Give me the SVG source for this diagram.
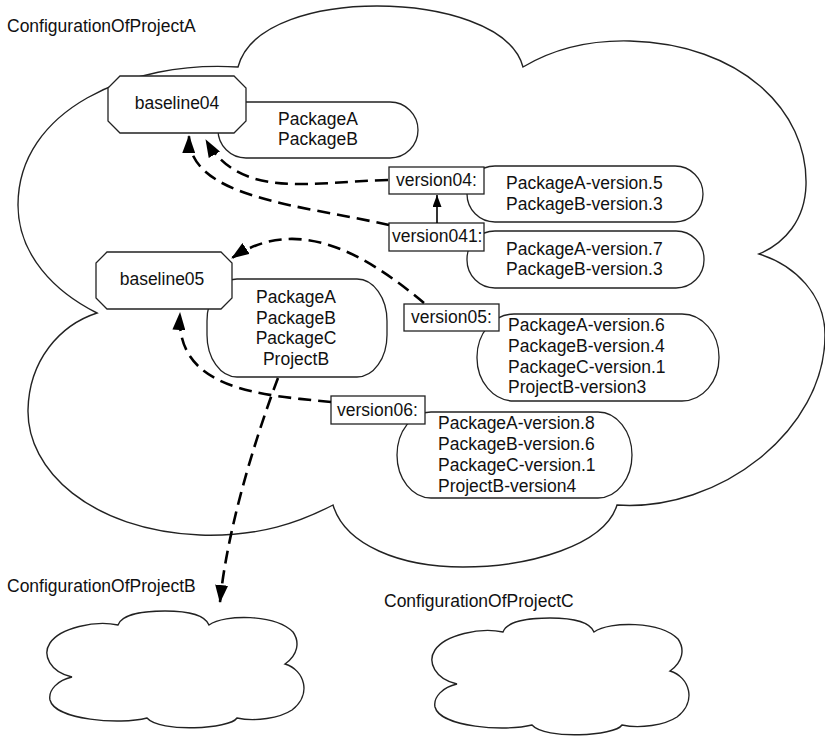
<svg xmlns="http://www.w3.org/2000/svg" width="825" height="737" viewBox="0 0 825 737">
<defs>
<style>
.t{font-family:"Liberation Sans",Arial,sans-serif;font-size:17.5px;fill:#111}
.m{text-anchor:middle}
.sh{fill:#fff;stroke:#222;stroke-width:1.3}
.cl{fill:#fff;stroke:#222;stroke-width:1.4;stroke-linejoin:miter}
.dash{fill:none;stroke:#000;stroke-width:2.6;stroke-dasharray:13 7}
.solid{fill:none;stroke:#000;stroke-width:1.6}
</style>
<marker id="ah" viewBox="0 0 18 13" refX="17" refY="6.5" markerWidth="18" markerHeight="13" markerUnits="userSpaceOnUse" orient="auto">
<path d="M0,0 L18,6.5 L0,13 z" fill="#000"/>
</marker>
<marker id="ahs" viewBox="0 0 12 9" refX="12" refY="4.5" markerWidth="12" markerHeight="9" markerUnits="userSpaceOnUse" orient="auto">
<path d="M0,0 L12,4.5 L0,9 z" fill="#000"/>
</marker>
<path id="small" d="M118,625 C122,614 145,611 165,611 C190,611 205,615 209,625 C225,614 275,614 293,632 C300,642 298,655 285,664 C305,670 312,695 292,710 C280,718 255,722 237,718 C230,729 160,733 147,718 C120,725 55,720 50,700 C48,690 58,680 72,677 C50,672 42,655 50,643 C60,628 95,620 118,625 Z"/>
</defs>

<g id="cloudA">
<path class="cl" d="M238,67 C250,22 320,6 377,6 C440,6 512,25 523,67 C555,48 590,40 630,41 C740,44 808,110 806,185 C805,220 785,243 759,254 C795,265 825,295 825,335 C825,430 720,512 617,505 C605,545 530,567 463,567 C400,567 345,545 333,505 C300,522 260,537 200,535 C90,530 27,470 28,410 C29,360 60,325 97,313 C55,292 18,255 18,205 C18,110 130,60 238,67 Z"/>
<text class="t" x="7" y="32">ConfigurationOfProjectA</text>
</g>

<g id="cloudB">
<use href="#small" class="cl"/>
<text class="t" x="7" y="592">ConfigurationOfProjectB</text>
</g>

<g id="cloudC">
<use href="#small" class="cl" transform="translate(385,7)"/>
<text class="t" x="384" y="607">ConfigurationOfProjectC</text>
</g>

<g id="contents04">
<rect class="sh" x="218" y="102" width="200" height="56" rx="28" ry="28"/>
<text class="t m" x="318" y="125">PackageA</text>
<text class="t m" x="318" y="145">PackageB</text>
</g>
<g id="baseline04">
<polygon class="sh" points="120,76 234,76 246,88 246,121 234,133 120,133 108,121 108,88"/>
<text class="t m" x="177" y="109">baseline04</text>
</g>

<g id="contents05">
<rect class="sh" x="207" y="279" width="180" height="98" rx="30" ry="42"/>
<text class="t m" x="296" y="303">PackageA</text>
<text class="t m" x="296" y="324">PackageB</text>
<text class="t m" x="296" y="344">PackageC</text>
<text class="t m" x="296" y="365">ProjectB</text>
</g>
<g id="baseline05">
<polygon class="sh" points="107,252 221,252 232,263 232,298 221,309 107,309 96,298 96,263"/>
<text class="t m" x="162" y="285">baseline05</text>
</g>

<g id="v04contents">
<rect class="sh" x="467" y="166" width="236" height="56" rx="28" ry="28"/>
<text class="t" x="506" y="189">PackageA-version.5</text>
<text class="t" x="506" y="210">PackageB-version.3</text>
</g>
<g id="version04">
<rect class="sh" x="389" y="167" width="95" height="27"/>
<text class="t" x="396" y="186">version04:</text>
</g>

<g id="v041contents">
<rect class="sh" x="467" y="231" width="237" height="57" rx="28" ry="28"/>
<text class="t" x="506" y="255">PackageA-version.7</text>
<text class="t" x="506" y="275">PackageB-version.3</text>
</g>
<g id="version041">
<rect class="sh" x="389" y="223" width="95" height="28"/>
<text class="t" x="392" y="242">version041:</text>
</g>

<g id="v05contents">
<rect class="sh" x="477" y="314" width="242" height="87" rx="37" ry="43"/>
<text class="t" x="508" y="331">PackageA-version.6</text>
<text class="t" x="508" y="352">PackageB-version.4</text>
<text class="t" x="508" y="373">PackageC-version.1</text>
<text class="t" x="508" y="393">ProjectB-version3</text>
</g>
<g id="version05">
<rect class="sh" x="404" y="304" width="95" height="27"/>
<text class="t" x="411" y="323">version05:</text>
</g>

<g id="v06contents">
<rect class="sh" x="397" y="412" width="235" height="86" rx="34" ry="43"/>
<text class="t" x="438" y="429">PackageA-version.8</text>
<text class="t" x="438" y="450">PackageB-version.6</text>
<text class="t" x="438" y="471">PackageC-version.1</text>
<text class="t" x="438" y="492">ProjectB-version4</text>
</g>
<g id="version06">
<rect class="sh" x="331" y="396" width="94" height="28"/>
<text class="t" x="337" y="416">version06:</text>
</g>

<g id="connectors">
<path class="dash" marker-end="url(#ah)" d="M388,180 C310,182 240,200 206,140"/>
<path class="dash" marker-end="url(#ah)" d="M389,225 C300,205 188,198 189,136"/>
<path class="dash" marker-end="url(#ah)" d="M424,303 C370,258 300,212 232,258"/>
<path class="dash" marker-end="url(#ah)" d="M331,402 C260,395 175,390 180,313"/>
<path class="dash" marker-end="url(#ah)" d="M278,378 C262,420 228,520 220,602"/>
<path class="solid" marker-end="url(#ahs)" d="M437,223 L437,195"/>
</g>
</svg>
